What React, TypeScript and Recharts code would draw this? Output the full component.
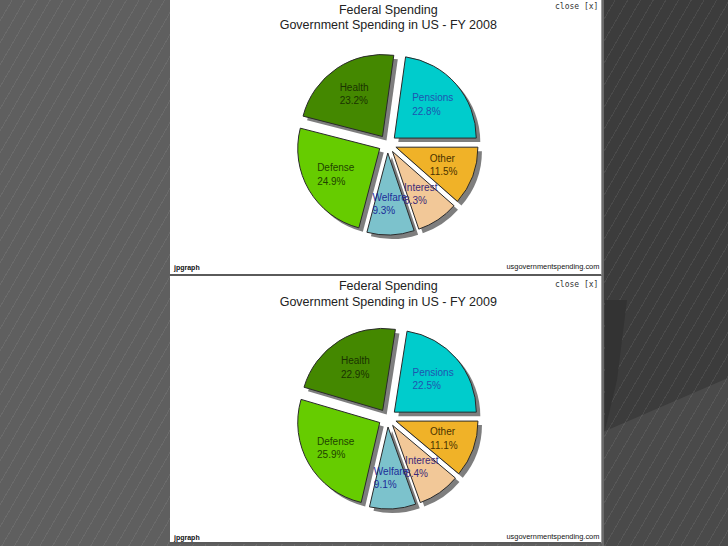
import React from 'react';
import { PieChart, Pie, Sector } from 'recharts';

const CATEGORIES = ['Pensions', 'Health', 'Defense', 'Welfare', 'Interest', 'Other'];
const VALUES_2008 = [22.8, 23.2, 24.9, 9.3, 8.3, 11.5];
const VALUES_2009 = [22.5, 22.9, 25.9, 9.1, 8.4, 11.1];
const TITLE = 'Federal Spending';
const SUBTITLES = ['Government Spending in US - FY 2008', 'Government Spending in US - FY 2009'];
const SLICE_COLORS = ['#00CCCC', '#448800', '#66CC00', '#7CC2CC', '#F2C898', '#F0B228'];
const LABEL_COLORS = ['#1f55b0', '#1a3300', '#1e4400', '#1c2c98', '#3c2a78', '#4a3300'];

const FONT = "'Liberation Sans', Arial, sans-serif";
const R = 82;
const EXPLODE = 9;
const LABEL_R = 51;
const SHADOW = 4;
const LABEL_FS = 10;

let ctx: CanvasRenderingContext2D | null = null;
const measure = (s: string) => {
  if (!ctx) {
    const c = document.createElement('canvas');
    ctx = c.getContext('2d');
  }
  if (!ctx) return s.length * 5;
  ctx.font = `${LABEL_FS}px 'Liberation Sans'`;
  return ctx.measureText(s).width;
};

const apex = (p: any) => {
  const rad = (p.midAngle * Math.PI) / 180;
  return {
    rad,
    ax: p.cx + EXPLODE * Math.cos(rad),
    ay: p.cy - EXPLODE * Math.sin(rad),
  };
};

const shadowLabel = (p: any) => {
  const { ax, ay } = apex(p);
  return (
    <Sector
      cx={ax + SHADOW}
      cy={ay + SHADOW}
      innerRadius={0}
      outerRadius={p.outerRadius}
      startAngle={p.startAngle}
      endAngle={p.endAngle}
      fill="#7e7e7e"
      stroke="none"
    />
  );
};

const sliceLabel = (p: any) => {
  const { ax, ay } = apex(p);
  return (
    <Sector
      cx={ax}
      cy={ay}
      innerRadius={0}
      outerRadius={p.outerRadius}
      startAngle={p.startAngle}
      endAngle={p.endAngle}
      fill={SLICE_COLORS[p.index % SLICE_COLORS.length]}
      stroke="#2a2a2a"
      strokeWidth={1}
    />
  );
};

const textLabel = (p: any) => {
  const { rad, ax, ay } = apex(p);
  const lx = ax + LABEL_R * Math.cos(rad);
  const ly = ay - LABEL_R * Math.sin(rad);
  const l1 = String(p.payload.name);
  const l2 = `${Number(p.payload.value).toFixed(1)}%`;
  const w = Math.max(measure(l1), measure(l2));
  const x0 = lx - w / 2;
  const color = LABEL_COLORS[p.index % LABEL_COLORS.length];
  return (
    <g>
      <text x={x0} y={ly - 6.7} fontSize={LABEL_FS} fontFamily={FONT} fill={color} dominantBaseline="central" textAnchor="start">
        {l1}
      </text>
      <text x={x0} y={ly + 6.7} fontSize={LABEL_FS} fontFamily={FONT} fill={color} dominantBaseline="central" textAnchor="start">
        {l2}
      </text>
    </g>
  );
};

const abs = (x: number, y: number, extra: React.CSSProperties): React.CSSProperties => ({
  position: 'absolute',
  left: x,
  top: y,
  whiteSpace: 'nowrap',
  lineHeight: 1,
  ...extra,
});

function Panel({ top, height, values, subtitle, cy, titleY, subY, closeY, footY }: any) {
  const data = CATEGORIES.map((name, i) => ({ name, value: values[i] }));
  const W = 432;
  const CX = 217.5;
  return (
    <div
      style={{
        position: 'absolute',
        left: 170,
        top,
        width: W,
        height,
        background: '#ffffff',
        borderBottom: '2px solid #5a5a5a',
        borderRight: '1px solid #9a9a9a',
        boxSizing: 'border-box',
      }}
    >
      <PieChart width={W} height={height} margin={{ top: 0, right: 0, bottom: 0, left: 0 }}>
        <Pie
          data={data}
          dataKey="value"
          nameKey="name"
          cx={CX}
          cy={cy}
          outerRadius={R}
          startAngle={0}
          endAngle={360}
          fill="transparent"
          stroke="none"
          label={shadowLabel}
          labelLine={false}
          isAnimationActive={false}
        />
        <Pie
          data={data}
          dataKey="value"
          nameKey="name"
          cx={CX}
          cy={cy}
          outerRadius={R}
          startAngle={0}
          endAngle={360}
          fill="transparent"
          stroke="none"
          label={sliceLabel}
          labelLine={false}
          isAnimationActive={false}
        />
        <Pie
          data={data}
          dataKey="value"
          nameKey="name"
          cx={CX}
          cy={cy}
          outerRadius={R}
          startAngle={0}
          endAngle={360}
          fill="transparent"
          stroke="none"
          label={textLabel}
          labelLine={false}
          isAnimationActive={false}
        />
      </PieChart>
      <div style={abs(218.3, titleY, { transform: 'translate(-50%, -50%)', fontFamily: FONT, fontSize: 12.5, color: '#222' })}>{TITLE}</div>
      <div style={abs(218.3, subY, { transform: 'translate(-50%, -50%)', fontFamily: FONT, fontSize: 12.5, color: '#222' })}>{subtitle}</div>
      <div style={abs(385, closeY, { transform: 'translateY(-50%)', fontFamily: "'DejaVu Sans Mono', monospace", fontSize: 8, color: '#333' })}>close [x]</div>
      <div style={abs(4, footY, { transform: 'translateY(-50%)', fontFamily: FONT, fontSize: 7, fontWeight: 'bold', color: '#111' })}>jpgraph</div>
      <div style={abs(336.5, footY, { transform: 'translateY(-50%)', fontFamily: FONT, fontSize: 7.4, color: '#111' })}>usgovernmentspending.com</div>
    </div>
  );
}

export default function App() {
  const stripes = 'repeating-linear-gradient(120deg, rgba(255,255,255,0) 0px, rgba(255,255,255,0) 10px, rgba(255,255,255,0.07) 10px, rgba(255,255,255,0.07) 11px)';
  return (
    <div
      style={{
        position: 'absolute',
        left: 0,
        top: 0,
        width: 728,
        height: 546,
        overflow: 'hidden',
        backgroundColor: '#5f5f5f',
        backgroundImage: stripes,
      }}
    >
      <div style={{ position: 'absolute', left: 603, top: 0, width: 125, height: 546, backgroundColor: '#3c3c3c', backgroundImage: stripes }} />
      <div
        style={{
          position: 'absolute',
          left: 603,
          top: 0,
          width: 125,
          height: 546,
          backgroundColor: '#4a4a4a',
          backgroundImage: stripes,
          clipPath: 'polygon(0px 432px, 125px 378px, 125px 546px, 0px 546px)',
        }}
      />
      <div
        style={{
          position: 'absolute',
          left: 603,
          top: 0,
          width: 125,
          height: 546,
          backgroundColor: '#333333',
          clipPath: 'polygon(2px 300px, 24px 300px, 14px 380px, 2px 430px)',
        }}
      />
      <div style={{ position: 'absolute', left: 602, top: 0, width: 2, height: 546, background: '#6a6a6a' }} />
      <Panel top={0} height={276} values={VALUES_2008} subtitle={SUBTITLES[0]} cy={144} titleY={9.5} subY={25} closeY={7} footY={266.7} />
      <Panel top={276} height={268} values={VALUES_2009} subtitle={SUBTITLES[1]} cy={142} titleY={10} subY={25.5} closeY={8.5} footY={261.3} />
    </div>
  );
}
